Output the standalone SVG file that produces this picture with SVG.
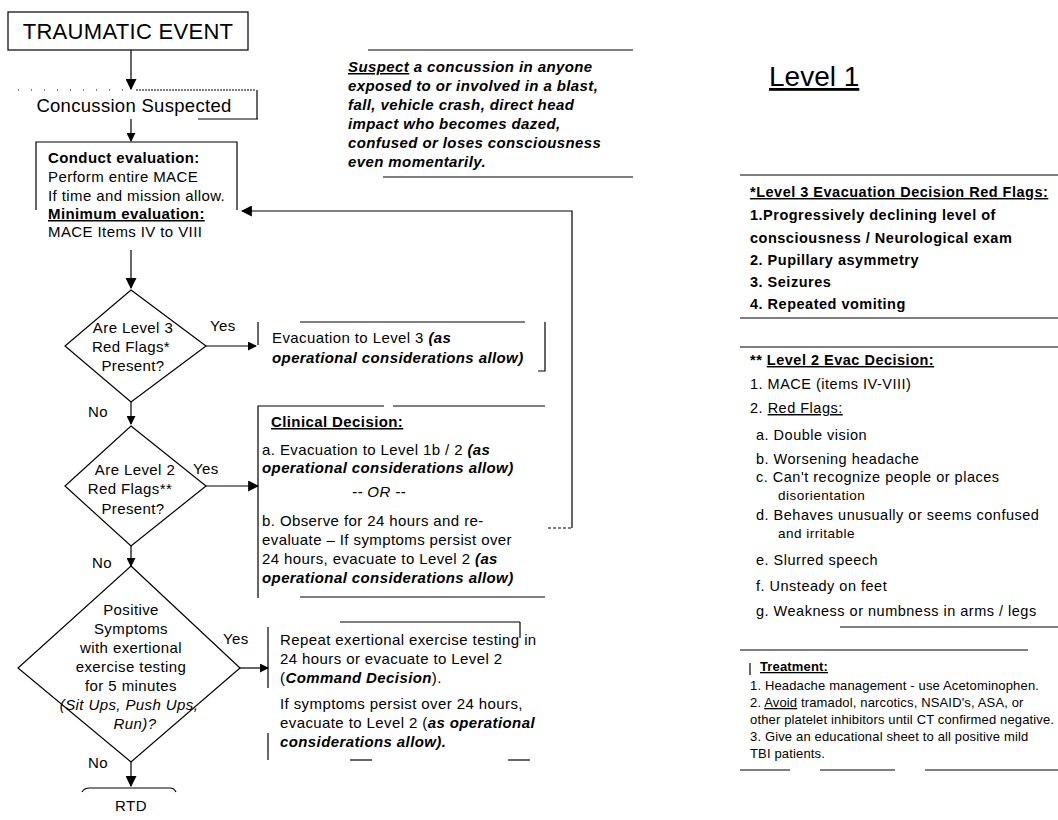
<svg xmlns="http://www.w3.org/2000/svg" width="1058" height="820" viewBox="0 0 1058 820">
<defs>
<marker id="ah" viewBox="0 0 10 10" refX="9" refY="5" markerWidth="9" markerHeight="9" markerUnits="userSpaceOnUse" orient="auto">
<path d="M0,0 L10,5 L0,10 z" fill="#000"/>
</marker>
<marker id="ahb" viewBox="0 0 10 10" refX="9" refY="5" markerWidth="11" markerHeight="11" markerUnits="userSpaceOnUse" orient="auto">
<path d="M0,0 L10,5 L0,10 z" fill="#000"/>
</marker>
</defs>
<style>
text{font-family:"Liberation Sans",Arial,sans-serif;fill:#000}
.ln{stroke:#000;stroke-width:1.2;fill:none}
.f{font-size:15px;letter-spacing:0.4px}
.b{font-weight:bold}
.i{font-style:italic}
.bi{font-style:italic;font-weight:bold}
.u{text-decoration:underline}
.r{font-size:14.5px;font-weight:bold;letter-spacing:0.5px}
.r2{font-size:14.5px;letter-spacing:0.5px}
.s2{font-size:13.5px;letter-spacing:0.5px}
.t{font-size:13px;letter-spacing:0.15px}
.m{text-anchor:middle}
</style>
<rect width="1058" height="820" fill="#fff"/>

<g id="connectors">
<line class="ln" x1="131" y1="50" x2="131" y2="89" stroke-width="3" marker-end="url(#ahb)"/>
<line class="ln" x1="131" y1="119" x2="131" y2="141" marker-end="url(#ah)"/>
<line class="ln" x1="131" y1="250" x2="131" y2="288" stroke-width="2" marker-end="url(#ahb)"/>
<line class="ln" x1="206" y1="346" x2="256" y2="346" marker-end="url(#ah)"/>
<line class="ln" x1="131" y1="401" x2="131" y2="424" stroke-width="2" marker-end="url(#ah)"/>
<line class="ln" x1="206" y1="486" x2="258" y2="486" stroke-width="2" marker-end="url(#ahb)"/>
<line class="ln" x1="131" y1="546" x2="131" y2="566" marker-end="url(#ah)"/>
<line class="ln" x1="240" y1="668" x2="268" y2="668" marker-end="url(#ah)"/>
<line class="ln" x1="131" y1="762" x2="131" y2="786" stroke-width="2" marker-end="url(#ahb)"/>
<line class="ln" x1="548" y1="528" x2="572" y2="528" stroke-dasharray="3,2"/>
<polyline class="ln" points="572,528 572,211 242,211" marker-end="url(#ahb)" stroke-width="1.5"/>
</g>

<g id="traumatic">
<rect class="ln" x="8" y="12" width="240" height="38"/>
<text x="128" y="39" font-size="22" letter-spacing="0.3" class="m">TRAUMATIC EVENT</text>
</g>

<g id="suspected">
<line class="ln" x1="18" y1="90" x2="126" y2="90" stroke-dasharray="1,12"/>
<line class="ln" x1="136" y1="90" x2="255" y2="90" stroke-dasharray="2,1"/>
<line class="ln" x1="257" y1="90" x2="257" y2="119"/>
<line class="ln" x1="198" y1="119" x2="258" y2="119" stroke-width="2"/>
<text x="134" y="112" font-size="18.5" letter-spacing="0.3" class="m">Concussion Suspected</text>
</g>

<g id="evaluation">
<polyline class="ln" points="36,210 36,142 237,142 237,210"/>
<text x="48" y="163" class="f b">Conduct evaluation:</text>
<text x="48" y="182" class="f">Perform entire MACE</text>
<text x="48" y="201" class="f">If time and mission allow.</text>
<text x="48" y="219" class="f b u">Minimum evaluation:</text>
<text x="48" y="237" class="f">MACE Items IV to VIII</text>
</g>

<g id="note">
<line class="ln" x1="368" y1="50" x2="633" y2="50"/>
<line class="ln" x1="383" y1="177" x2="633" y2="177"/>
<text x="348" y="72" class="f bi"><tspan class="u">Suspect</tspan> a concussion in anyone</text>
<text x="348" y="91" class="f bi">exposed to or involved in a blast,</text>
<text x="348" y="110" class="f bi">fall, vehicle crash, direct head</text>
<text x="348" y="129" class="f bi">impact who becomes dazed,</text>
<text x="348" y="148" class="f bi">confused or loses consciousness</text>
<text x="348" y="167" class="f bi">even momentarily.</text>
</g>

<g id="diamond1">
<polygon class="ln" points="131,290 206,346 131,402 65,346"/>
<text x="133" y="333" class="f m">Are Level 3</text>
<text x="131" y="352" class="f m">Red Flags*</text>
<text x="133" y="371" class="f m">Present?</text>
<text x="210" y="331" class="f">Yes</text>
</g>

<g id="evac3">
<polyline class="ln" points="258,322 258,345"/>
<line class="ln" x1="300" y1="322" x2="525" y2="322"/>
<polyline class="ln" points="545,322 545,371 538,371"/>
<text x="272" y="343" class="f">Evacuation to Level 3 <tspan class="bi">(as</tspan></text>
<text x="272" y="363" class="f bi">operational considerations allow)</text>
</g>

<g id="diamond2">
<text x="88" y="417" class="f">No</text>
<polygon class="ln" points="131,426 206,486 131,546 65,486"/>
<text x="135" y="475" class="f m">Are Level 2</text>
<text x="130" y="494" class="f m">Red Flags**</text>
<text x="133" y="514" class="f m">Present?</text>
<text x="193" y="474" class="f">Yes</text>
</g>

<g id="clinical">
<polyline class="ln" points="258,598 258,406 384,406"/>
<line class="ln" x1="393" y1="406" x2="545" y2="406"/>
<line class="ln" x1="300" y1="597" x2="545" y2="597"/>
<text x="271" y="427" class="f b u">Clinical Decision:</text>
<text x="262" y="455" class="f">a. Evacuation to Level 1b / 2 <tspan class="bi">(as</tspan></text>
<text x="262" y="473" class="f bi">operational considerations allow)</text>
<text x="379" y="497" class="f i m">-- OR --</text>
<text x="262" y="526" class="f">b. Observe for 24 hours and re-</text>
<text x="262" y="545" class="f">evaluate – If symptoms persist over</text>
<text x="262" y="564" class="f">24 hours, evacuate to Level 2 <tspan class="bi">(as</tspan></text>
<text x="262" y="583" class="f bi">operational considerations allow)</text>
</g>

<g id="diamond3">
<text x="92" y="568" class="f">No</text>
<polygon class="ln" points="131,566 240,668 131,762 18,668"/>
<text x="131" y="615" class="f m">Positive</text>
<text x="131" y="634" class="f m">Symptoms</text>
<text x="131" y="653" class="f m">with exertional</text>
<text x="131" y="672" class="f m">exercise testing</text>
<text x="131" y="691" class="f m">for 5 minutes</text>
<text x="129" y="710" class="f i m">(Sit Ups, Push Ups,</text>
<text x="135" y="729" class="f i m">Run)?</text>
<text x="223" y="644" class="f">Yes</text>
</g>

<g id="repeat">
<line class="ln" x1="268" y1="627" x2="268" y2="688"/>
<line class="ln" x1="268" y1="733" x2="268" y2="760"/>
<line class="ln" x1="340" y1="622" x2="520" y2="622"/>
<line class="ln" x1="520" y1="622" x2="520" y2="638"/>
<line class="ln" x1="350" y1="760" x2="372" y2="760"/>
<line class="ln" x1="508" y1="760" x2="530" y2="760"/>
<text x="280" y="645" class="f">Repeat exertional exercise testing in</text>
<text x="280" y="664" class="f">24 hours or evacuate to Level 2</text>
<text x="280" y="683" class="f">(<tspan class="bi">Command Decision</tspan>).</text>
<text x="280" y="709" class="f">If symptoms persist over 24 hours,</text>
<text x="280" y="728" class="f">evacuate to Level 2 (<tspan class="bi">as operational</tspan></text>
<text x="280" y="747" class="f bi">considerations allow).</text>
</g>

<g id="rtd">
<text x="88" y="768" class="f">No</text>
<path class="ln" d="M82,792 Q84,788 90,788 L170,788 Q174,788 176,792"/>
<text x="131" y="811" class="f m">RTD</text>
</g>

<g id="level1">
<text x="769" y="86" font-size="28" class="u">Level 1</text>
</g>

<g id="redflags3">
<line class="ln" x1="740" y1="175" x2="1058" y2="175"/>
<line class="ln" x1="740" y1="318" x2="1058" y2="318" stroke-width="1.5"/>
<text x="750" y="197" class="r u">*Level 3 Evacuation Decision Red Flags:</text>
<text x="750" y="220" class="r">1.Progressively declining level of</text>
<text x="750" y="243" class="r">consciousness / Neurological  exam</text>
<text x="750" y="265" class="r">2. Pupillary asymmetry</text>
<text x="750" y="287" class="r">3. Seizures</text>
<text x="750" y="309" class="r">4. Repeated vomiting</text>
</g>

<g id="evac2">
<line class="ln" x1="740" y1="347" x2="1058" y2="347" stroke-width="1.5"/>
<line class="ln" x1="840" y1="627" x2="1058" y2="627"/>
<text x="750" y="365" class="r">** <tspan class="u">Level 2 Evac Decision:</tspan></text>
<text x="750" y="389" class="r2">1. MACE (items IV-VIII)</text>
<text x="750" y="413" class="r2">2. <tspan class="u">Red Flags:</tspan></text>
<text x="756" y="440" class="r2">a. Double vision</text>
<text x="756" y="464" class="r2">b. Worsening headache</text>
<text x="756" y="482" class="r2">c. Can't recognize people or places</text>
<text x="778" y="500" class="s2">disorientation</text>
<text x="756" y="520" class="r2">d. Behaves unusually or seems confused</text>
<text x="778" y="538" class="s2">and  irritable</text>
<text x="756" y="565" class="r2">e. Slurred speech</text>
<text x="756" y="591" class="r2">f. Unsteady on feet</text>
<text x="756" y="616" class="r2">g. Weakness or numbness in arms / legs</text>
</g>

<g id="treatment">
<line class="ln" x1="740" y1="650" x2="1028" y2="650"/>
<line class="ln" x1="750" y1="663" x2="750" y2="675"/>
<line class="ln" x1="740" y1="770" x2="790" y2="770"/>
<line class="ln" x1="820" y1="770" x2="895" y2="770"/>
<line class="ln" x1="925" y1="770" x2="1058" y2="770"/>
<text x="760" y="671" class="t b u">Treatment:</text>
<text x="750" y="690" class="t">1. Headache management  - use Acetominophen.</text>
<text x="750" y="707" class="t">2. <tspan class="u">Avoid</tspan> tramadol, narcotics, NSAID's, ASA, or</text>
<text x="750" y="724" class="t">other platelet inhibitors until CT confirmed negative.</text>
<text x="750" y="741" class="t">3. Give an educational sheet to all positive mild</text>
<text x="750" y="758" class="t">TBI patients.</text>
</g>
</svg>
